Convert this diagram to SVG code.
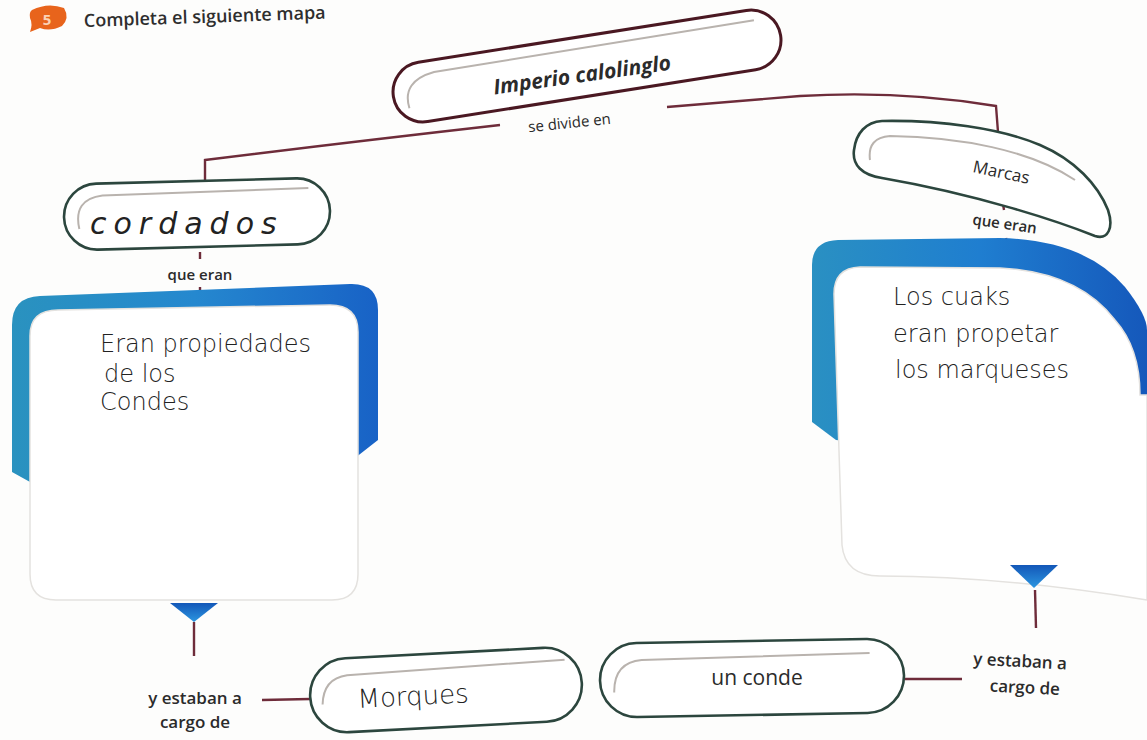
<svg xmlns="http://www.w3.org/2000/svg" width="1147" height="740" viewBox="0 0 1147 740">
<defs>
<style>
.bg{fill:#fdfdfc}
.pillM{fill:#fff;stroke:#4a1822;stroke-width:3}
.pillG{fill:#fff;stroke:#2c463e;stroke-width:2.6}
.inner{fill:none;stroke:#b9b3ae;stroke-width:2}
.conn{fill:none;stroke:#6e2c3a;stroke-width:2.4}
.lbl{font-family:"Open Sans","Liberation Sans",sans-serif;font-weight:600;fill:#2b2b2b;text-anchor:middle}
.reg{font-weight:400}
.bold{font-weight:700}
.hand{font-family:"DejaVu Sans","Liberation Sans",sans-serif;font-weight:300;fill:#222}
.card{fill:#fff;stroke:#e4e2df;stroke-width:1.5}
</style>
<linearGradient id="blueL" x1="0" y1="0" x2="1" y2="0">
<stop offset="0" stop-color="#2a92bf"/>
<stop offset="0.5" stop-color="#2588cf"/>
<stop offset="1" stop-color="#1862c6"/>
</linearGradient>
<linearGradient id="blueR" x1="0" y1="0" x2="1" y2="0">
<stop offset="0" stop-color="#2a90c2"/>
<stop offset="0.5" stop-color="#1f7ed0"/>
<stop offset="1" stop-color="#1558bb"/>
</linearGradient>
<linearGradient id="tri" x1="0" y1="0" x2="0" y2="1">
<stop offset="0" stop-color="#1357b8"/>
<stop offset="1" stop-color="#2c96e0"/>
</linearGradient>
</defs>
<rect class="bg" x="0" y="0" width="1147" height="740"/>

<g id="header">
<path d="M32,10 Q48,2 64,8 Q70,18 62,26 Q50,32 40,28 L30,32 Q33,24 30,18 Q29,12 32,10 Z" fill="#e8641c"/>
<text x="47" y="25" font-family="Open Sans, Liberation Sans, sans-serif" font-weight="700" font-size="15" fill="#fbd2b5" text-anchor="middle">5</text>
<text x="84" y="27" transform="rotate(-2 84 27)" font-family="Open Sans, Liberation Sans, sans-serif" font-weight="600" font-size="18" fill="#2e2e2e">Completa el siguiente mapa</text>
</g>

<g id="connectors">
<path class="conn" d="M205,183 L205,160 Q350,142 500,125"/>
<path class="conn" d="M667,107 L800,96 Q900,90 996,106 L998,132"/>
<path class="conn" d="M200,252 L200,259"/>
<path class="conn" d="M200,287 L200,293"/>
<path class="conn" d="M1003,204 L1004,210"/>
<path class="conn" d="M1006,238 L1007,245"/>
<path class="conn" d="M194,622 L194,656"/>
<path class="conn" d="M1035,590 L1036,628"/>
<path class="conn" d="M262,700 L310,699"/>
<path class="conn" d="M905,679 L962,679"/>
</g>

<g id="imperio">
<g transform="translate(587,66) rotate(-9)">
<rect class="pillM" x="-196" y="-30" width="392" height="60" rx="30"/>
<path class="inner" d="M-182,14 Q-186,-14 -152,-18 L172,-19" stroke="#c7aeb3"/>
</g>
<text class="lbl bold" x="583" y="82" font-size="21" font-style="italic" transform="rotate(-8 583 82)">Imperio calolinglo</text>
</g>
<g id="lbl-divide">
<text class="lbl reg" x="570" y="128" font-size="15" transform="rotate(-6 570 128)">se divide en</text>
</g>

<g id="condados">
<g transform="translate(197,214) rotate(-1.5)">
<rect class="pillG" x="-133" y="-33" width="266" height="66" rx="33"/>
<path class="inner" d="M-118,12 Q-124,-18 -94,-21 L112,-23"/>
</g>
<text class="hand" x="90" y="234" font-size="30" letter-spacing="7" font-style="italic">cordados</text>
</g>
<g id="lbl-que1"><text class="lbl" x="200" y="280" font-size="15">que eran</text></g>

<g id="marcas">
<path class="pillG" d="M882,121 C940,120 1000,128 1040,145 C1075,160 1098,185 1108,210 C1114,228 1108,240 1095,236 C1060,222 980,195 882,178 C862,175 852,165 854,150 C856,133 866,122 882,121 Z"/>
<path class="inner" d="M870,160 C868,145 875,137 890,136 C960,137 1030,150 1075,180"/>
<text class="lbl reg" x="1000" y="178" font-size="17" transform="rotate(12 1000 178)">Marcas</text>
</g>
<g id="lbl-que2"><text class="lbl" x="1004" y="229" font-size="15" transform="rotate(8 1004 229)">que eran</text></g>

<g id="card-left">
<path d="M12,472 L12,325 Q12,297 40,296 L350,284 Q378,283 378,310 L378,440 L355,458 L30,482 Z" fill="url(#blueL)"/>
<path class="card" d="M30,336 Q30,310 58,310 L330,305 Q358,305 358,332 L358,574 Q358,600 332,600 L56,600 Q30,600 30,574 Z"/>
<path d="M170,603 L218,603 L194,622 Z" fill="url(#tri)"/>
<text class="hand" font-size="24"><tspan x="100" y="352">Eran propiedades</tspan><tspan x="104" y="382">de los</tspan><tspan x="100" y="410">Condes</tspan></text>
</g>

<g id="card-right">
<path d="M812,422 L812,265 Q812,241 838,240 L1000,238 Q1085,240 1125,287 Q1147,315 1147,330 L1147,472 L1138,476 L836,440 Z" fill="url(#blueR)"/>
<path class="card" d="M834,294 Q834,268 860,267 L1000,268 Q1078,272 1115,320 Q1140,348 1140,395 L1147,395 L1147,600 Q1000,576 880,576 Q845,576 842,545 Z"/>
<path d="M1010,565 L1058,565 L1034,588 Z" fill="url(#tri)"/>
<text class="hand" font-size="24"><tspan x="893" y="305">Los cuaks</tspan><tspan x="893" y="342">eran propetar</tspan><tspan x="895" y="378">los marqueses</tspan></text>
</g>

<g id="lbl-cargo1"><text class="lbl" font-size="17"><tspan x="195" y="704">y estaban a</tspan><tspan x="195" y="728">cargo de</tspan></text></g>

<g id="morques">
<g transform="translate(446,690) rotate(-3)">
<rect class="pillG" x="-136" y="-37" width="272" height="74" rx="37"/>
<path class="inner" d="M-124,8 Q-122,-18 -98,-20 L120,-24"/>
</g>
<text class="hand" x="358" y="708" font-size="26" transform="rotate(-3 358 708)">Morques</text>
</g>

<g id="unconde">
<g transform="translate(752,678) rotate(-1)">
<rect class="pillG" x="-152" y="-37" width="304" height="74" rx="37"/>
<path class="inner" d="M-138,12 Q-138,-18 -110,-20 L118,-23"/>
</g>
<text class="lbl reg" x="757" y="685" font-size="21">un conde</text>
</g>

<g id="lbl-cargo2"><text class="lbl" font-size="17" transform="rotate(3 1020 665)"><tspan x="1020" y="667">y estaban a</tspan><tspan x="1026" y="693">cargo de</tspan></text></g>
</svg>
